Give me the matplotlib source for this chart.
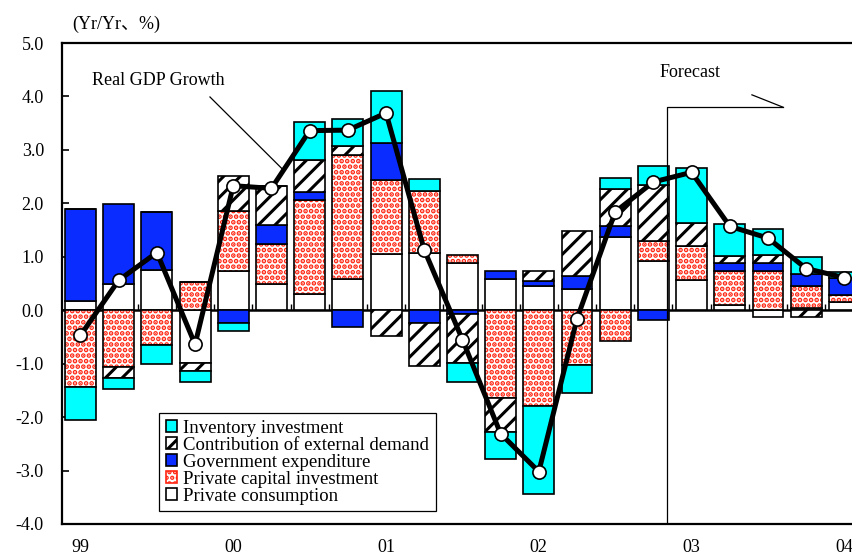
import numpy as np
import matplotlib
matplotlib.use("Agg")
import matplotlib.pyplot as plt
from matplotlib.patches import Patch

plt.rcParams['font.family'] = ['Liberation Serif', 'Noto Sans CJK JP', 'DejaVu Sans']

# Quarterly contributions to real GDP growth, 1999Q1 - 2004Q1 (Yr/Yr, %)
quarters = np.arange(21)
year_labels = ['99', '00', '01', '02', '03', '04']
year_positions = [0, 4, 8, 12, 16, 20]

private_consumption = [0.18, 0.50, 0.75, -0.98, 0.73, 0.50, 0.31, 0.58, 1.06, 1.08, 0.89,
                       0.59, 0.46, 0.40, 1.37, 0.93, 0.56, 0.10, -0.12, 0.05, 0.16]
private_capital = [-1.43, -1.06, -0.66, 0.53, 1.12, 0.74, 1.76, 2.33, 1.38, 1.15, 0.14,
                   -1.65, -1.80, -1.03, -0.58, 0.37, 0.65, 0.63, 0.73, 0.41, 0.12]
government = [1.71, 1.49, 1.08, 0.0, -0.23, 0.36, 0.15, -0.32, 0.68, -0.23, -0.07,
              0.15, 0.09, 0.24, 0.21, -0.18, 0.0, 0.15, 0.16, 0.22, 0.32]
external_demand = [0.0, -0.21, 0.0, -0.15, 0.66, 0.72, 0.59, 0.17, -0.49, -0.81, -0.92,
                   -0.62, 0.19, 0.85, 0.69, 1.05, 0.43, 0.14, 0.15, -0.13, 0.0]
inventory = [-0.62, -0.20, -0.34, -0.21, -0.15, 0.0, 0.71, 0.49, 0.98, 0.22, -0.35,
             -0.51, -1.63, -0.52, 0.20, 0.34, 1.03, 0.60, 0.48, 0.31, 0.11]
real_gdp = [-0.47, 0.56, 1.08, -0.64, 2.33, 2.28, 3.36, 3.37, 3.69, 1.13, -0.55,
            -2.31, -3.02, -0.16, 1.84, 2.40, 2.58, 1.57, 1.35, 0.78, 0.61]

RED = '#ff2410'
BLUE = '#0a2cff'
CYAN = '#00ffff'
BAR_W = 0.81
FS = 13

fig = plt.figure(figsize=(8.52, 5.59), dpi=100)
ax = fig.add_axes([62 / 852, 1 - 524 / 559, 1 - 62 / 852, (524 - 43) / 559])

pos_base = np.zeros(len(quarters))
neg_base = np.zeros(len(quarters))


def stacked(values, **style):
    vals = np.asarray(values, dtype=float)
    bottoms = np.where(vals >= 0, pos_base, neg_base)
    dotted = style.pop('dotted', False)
    if dotted:
        ax.bar(quarters, vals, BAR_W, bottom=bottoms, color='white', edgecolor=RED,
               hatch='...', linewidth=0, zorder=2)
        ax.bar(quarters, vals, BAR_W, bottom=bottoms, fill=False, edgecolor='black',
               linewidth=1.2, zorder=2)
    else:
        ax.bar(quarters, vals, BAR_W, bottom=bottoms, edgecolor='black',
               linewidth=1.2, zorder=2, **style)
    pos_base[vals > 0] += vals[vals > 0]
    neg_base[vals < 0] += vals[vals < 0]


plt.rcParams['hatch.linewidth'] = 2.4
stacked(private_consumption, color='white')
stacked(private_capital, dotted=True)
stacked(government, color=BLUE)
plt.rcParams['hatch.linewidth'] = 2.2
stacked(external_demand, color='white', hatch='//')
stacked(inventory, color=CYAN)

# GDP growth line
ax.plot(quarters, real_gdp, color='black', linewidth=3.6, marker='o', markersize=9.5,
        markerfacecolor='white', markeredgecolor='black', markeredgewidth=1.2, zorder=4)

ax.set_xlim(-0.484, 20.2)
ax.set_ylim(-4.0, 5.0)
ax.set_yticks(np.arange(-4, 5.1, 1.0))
ax.set_yticklabels([f'{v:.1f}' for v in np.arange(-4, 5.1, 1.0)], fontsize=FS)
ax.tick_params(axis='y', direction='in', length=5, width=1.2, pad=13)
ax.set_xticks(year_positions)
ax.set_xticklabels(year_labels, fontsize=FS)
ax.tick_params(axis='x', length=0, pad=11)
for side in ['left', 'top', 'bottom']:
    ax.spines[side].set_linewidth(1.6)
ax.spines['right'].set_visible(False)

# zero line with quarter separators
zero_axis = ax.secondary_xaxis(0, transform=ax.transData)
zero_axis.set_xticks(quarters[:-1] + 0.5)
zero_axis.set_xticklabels([])
zero_axis.tick_params(direction='in', length=4, width=1.0)
zero_axis.spines['bottom'].set_linewidth(1.8)

ax.text(-0.22, 5.35, '(Yr/Yr、%)', fontsize=FS, ha='left', va='center', clip_on=False)

# annotations
ax.text(2.03, 4.30, 'Real GDP Growth', fontsize=FS, ha='center', va='center')
ax.plot([3.39, 5.33], [3.99, 2.61], color='black', linewidth=0.9, zorder=5)

ax.text(15.96, 4.44, 'Forecast', fontsize=FS, ha='center', va='center')
ax.plot([15.36, 15.36, 18.39], [-4.0, 3.80, 3.80], color='black', linewidth=0.9, zorder=5)
ax.plot([17.58, 18.39], [4.03, 3.80], color='black', linewidth=0.9, zorder=5)

handles = [
    Patch(facecolor=CYAN, edgecolor='black', linewidth=1.2),
    Patch(facecolor='white', edgecolor='black', hatch='//', linewidth=1.2),
    Patch(facecolor=BLUE, edgecolor='black', linewidth=1.2),
    Patch(facecolor='white', edgecolor=RED, hatch='...', linewidth=1.2),
    Patch(facecolor='white', edgecolor='black', linewidth=1.2),
]
names = ['Inventory investment', 'Contribution of external demand',
         'Government expenditure', 'Private capital investment', 'Private consumption']
leg = ax.legend(handles, names, loc='upper left', bbox_to_anchor=(159 / 852, 1 - 413 / 559),
                bbox_transform=fig.transFigure, fontsize=13.5, frameon=True, fancybox=False,
                edgecolor='black', framealpha=1, handlelength=0.6, handleheight=0.6,
                handletextpad=0.35, labelspacing=0.0, borderpad=0.35, borderaxespad=0)
leg.get_frame().set_linewidth(0.9)
leg.set_zorder(6)

fig.savefig('out.png', dpi=100)
